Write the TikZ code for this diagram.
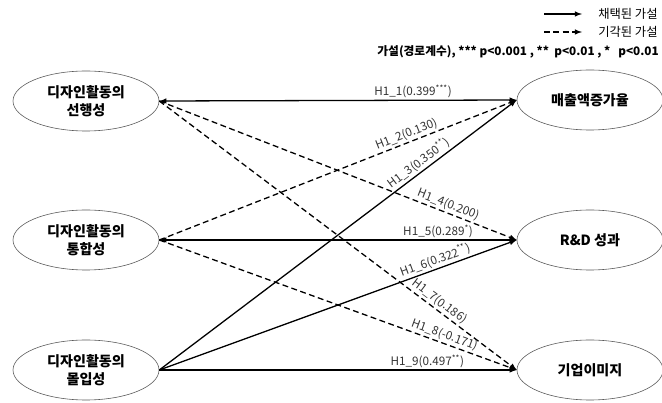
\documentclass[tikz,border=0pt]{standalone}
\usepackage{fontspec}
\setmainfont{Noto Sans CJK KR}
\usetikzlibrary{shapes.geometric}
\begin{document}
\begin{tikzpicture}[>=latex,x=0.03cm,y=-0.03cm,
  var/.style={ellipse,draw=black!65,line width=0.5pt,minimum width=4.38cm,minimum height=1.8cm,inner sep=0pt,align=center,font=\bfseries\fontsize{12}{15}\selectfont},
  accept/.style={line width=1.1pt},
  reject/.style={line width=1.1pt,dash pattern=on 5pt off 3pt},
  lab/.style={font=\fontsize{10}{11}\selectfont,text=black!80,inner sep=1.5pt,sloped,above}]
\useasboundingbox (0,0) rectangle (662,403);

% 독립변수
\node (L1) at (86,101)[var]{디자인활동의\\선행성};
\node (L2) at (86,240)[var]{디자인활동의\\통합성};
\node (L3) at (86,370)[var]{디자인활동의\\몰입성};
% 종속변수
\node (R1) at (590,100)[var]{매출액증가율};
\node (R2) at (590,240)[var]{R\&D 성과};
\node (R3) at (590,370)[var]{기업이미지};

% 범례
\coordinate (a1) at (544,14);
\coordinate (a2) at (582,14);
\coordinate (b1) at (544,32);
\coordinate (b2) at (582,32);
\draw[accept,->] (a1)--(a2) node[right=10pt,font=\fontsize{10.5}{12}\selectfont]{채택된 가설};
\draw[reject,->] (b1)--(b2) node[right=10pt,font=\fontsize{10.5}{12}\selectfont]{기각된 가설};
\node (key) at (659,52)[anchor=east,font=\bfseries\fontsize{10}{11}\selectfont,inner sep=0pt]{가설(경로계수), *** p<0.001 , **\ \ p<0.01 , *\ \ \ p<0.01};

% 경로
\draw[accept,<->] (L1.east)--node[lab,pos=0.71]{H1\_1(0.399\textsuperscript{***})}(R1.west);
\draw[reject,->] (L2.east)--node[lab,pos=0.7]{H1\_2(0.130)}(R1.west);
\draw[accept,->] (L3.east)--node[lab,pos=0.74]{H1\_3(0.350\textsuperscript{**})}(R1.west);
\draw[reject,->] (L1.east)--node[lab,pos=0.8]{H1\_4(0.200)}(R2.west);
\draw[accept,<->] (L2.east)--node[lab,pos=0.78]{H1\_5(0.289\textsuperscript{*})}(R2.west);
\draw[accept,->] (L3.east)--node[lab,pos=0.78]{H1\_6(0.322\textsuperscript{**})}(R2.west);
\draw[reject,->] (L1.east)--node[lab,pos=0.77]{H1\_7(0.186)}(R3.west);
\draw[reject,->] (L2.east)--node[lab,pos=0.79]{H1\_8(-0.171)}(R3.west);
\draw[accept,->] (L3.east)--node[lab,pos=0.75]{H1\_9(0.497\textsuperscript{**})}(R3.west);
\end{tikzpicture}
\end{document}
